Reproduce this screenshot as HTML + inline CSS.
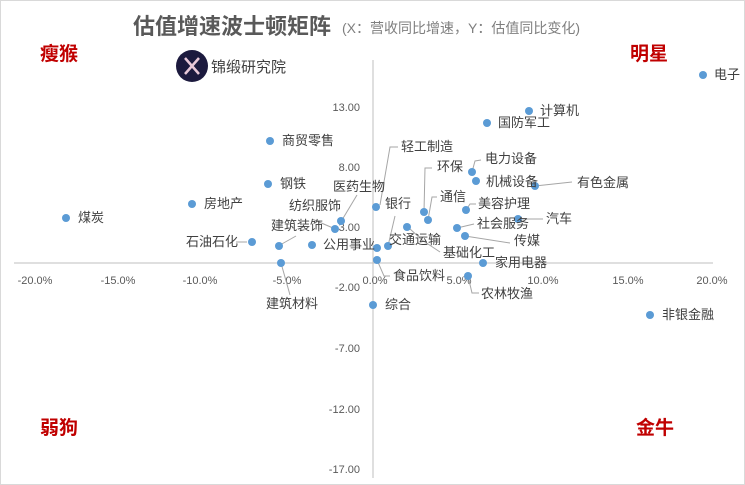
<!DOCTYPE html>
<html><head><meta charset="utf-8"><style>
html,body{margin:0;padding:0;background:#fff}
svg{display:block}
text{font-family:"Liberation Sans","Noto Sans CJK SC",sans-serif}
.l{font-size:13px;fill:#404040}
.t{font-size:11px;fill:#595959}
.w{font-size:19px;font-weight:bold;fill:#c00000}
.ld{stroke:#a6a6a6;stroke-width:1;fill:none}
</style></head><body>
<svg width="745" height="485" viewBox="0 0 745 485">
<rect x="0.5" y="0.5" width="744" height="484" fill="#fff" stroke="#d9d9d9"/>
<text x="133" y="34" style="font-size:22px;fill:#595959;font-weight:bold">估值增速波士顿矩阵</text>
<text x="342" y="33" style="font-size:14px;fill:#7f7f7f">(X：营收同比增速，Y：估值同比变化)</text>
<text class="w" x="40" y="60">瘦猴</text>
<text class="w" x="630" y="60">明星</text>
<text class="w" x="40" y="434">弱狗</text>
<text class="w" x="636" y="434">金牛</text>
<circle cx="192" cy="66" r="16" fill="#1c1a3e"/>
<path d="M185 58 L199 74 M199 58 L185 74" stroke="#e8c8d8" stroke-width="2.5" fill="none"/>
<text x="211" y="72" style="font-size:15px;fill:#404040">锦缎研究院</text>
<line x1="373" y1="60" x2="373" y2="478" stroke="#bfbfbf" stroke-width="1"/>
<line x1="14" y1="263" x2="713" y2="263" stroke="#bfbfbf" stroke-width="1"/>
<g class="t" text-anchor="middle">
<text x="35" y="284">-20.0%</text><text x="118" y="284">-15.0%</text><text x="200" y="284">-10.0%</text><text x="287" y="284">-5.0%</text><text x="375" y="284">0.0%</text><text x="459" y="284">5.0%</text><text x="543" y="284">10.0%</text><text x="628" y="284">15.0%</text><text x="712" y="284">20.0%</text>
</g>
<g class="t" text-anchor="end">
<text x="360" y="111">13.00</text><text x="360" y="171">8.00</text><text x="360" y="231">3.00</text><text x="360" y="291">-2.00</text><text x="360" y="352">-7.00</text><text x="360" y="413">-12.00</text><text x="360" y="473">-17.00</text>
</g>
<g class="ld">
<polyline points="380,205 390,147 398,147"/>
<polyline points="342,220 357,195"/>
<polyline points="333,228 312,219"/>
<polyline points="280,245 296,236"/>
<polyline points="388,246 395,216"/>
<polyline points="409,228 422,240 440,252"/>
<polyline points="424,212 425,168 432,168"/>
<polyline points="428,220 432,197 437,197"/>
<polyline points="466,210 470,204 476,204"/>
<polyline points="457,228 474,224"/>
<polyline points="465,236 510,243"/>
<polyline points="518,219 543,219"/>
<polyline points="535,186 572,182"/>
<polyline points="468,276 472,293 479,293"/>
<polyline points="377,260 384,276 390,276"/>
<polyline points="281,263 290,295"/>
<polyline points="472,172 475,161 481,160"/>
<polyline points="236,242 247,242"/>
</g>
<g fill="#5b9bd5">
<circle cx="703" cy="75" r="4"/><circle cx="529" cy="111" r="4"/><circle cx="487" cy="123" r="4"/><circle cx="270" cy="141" r="4"/>
<circle cx="472" cy="172" r="4"/><circle cx="476" cy="181" r="4"/><circle cx="535" cy="186" r="4"/><circle cx="268" cy="184" r="4"/>
<circle cx="192" cy="204" r="4"/><circle cx="66" cy="218" r="4"/><circle cx="376" cy="207" r="4"/><circle cx="424" cy="212" r="4"/>
<circle cx="428" cy="220" r="4"/><circle cx="466" cy="210" r="4"/><circle cx="341" cy="221" r="4"/><circle cx="335" cy="229" r="4"/>
<circle cx="518" cy="219" r="4"/><circle cx="457" cy="228" r="4"/><circle cx="407" cy="227" r="4"/><circle cx="465" cy="236" r="4"/>
<circle cx="252" cy="242" r="4"/><circle cx="279" cy="246" r="4"/><circle cx="312" cy="245" r="4"/><circle cx="377" cy="248" r="4"/>
<circle cx="388" cy="246" r="4"/><circle cx="377" cy="260" r="4"/><circle cx="483" cy="263" r="4"/><circle cx="281" cy="263" r="4"/>
<circle cx="468" cy="276" r="4"/><circle cx="373" cy="305" r="4"/><circle cx="650" cy="315" r="4"/>
</g>
<g class="l">
<text x="714" y="79">电子</text><text x="540" y="115">计算机</text><text x="498" y="127">国防军工</text><text x="282" y="145">商贸零售</text>
<text x="401" y="151">轻工制造</text><text x="485" y="163">电力设备</text><text x="437" y="171">环保</text><text x="486" y="186">机械设备</text>
<text x="577" y="187">有色金属</text><text x="280" y="188">钢铁</text><text x="333" y="191">医药生物</text><text x="440" y="201">通信</text>
<text x="204" y="208">房地产</text><text x="385" y="208">银行</text><text x="478" y="208">美容护理</text><text x="289" y="210">纺织服饰</text>
<text x="78" y="222">煤炭</text><text x="546" y="223">汽车</text><text x="477" y="228">社会服务</text><text x="271" y="230">建筑装饰</text>
<text x="389" y="244">交通运输</text><text x="186" y="246">石油石化</text><text x="514" y="245">传媒</text><text x="323" y="249">公用事业</text>
<text x="443" y="257">基础化工</text><text x="495" y="267">家用电器</text><text x="393" y="280">食品饮料</text><text x="481" y="298">农林牧渔</text>
<text x="266" y="308">建筑材料</text><text x="385" y="309">综合</text><text x="662" y="319">非银金融</text>
</g>
</svg>
</body></html>
